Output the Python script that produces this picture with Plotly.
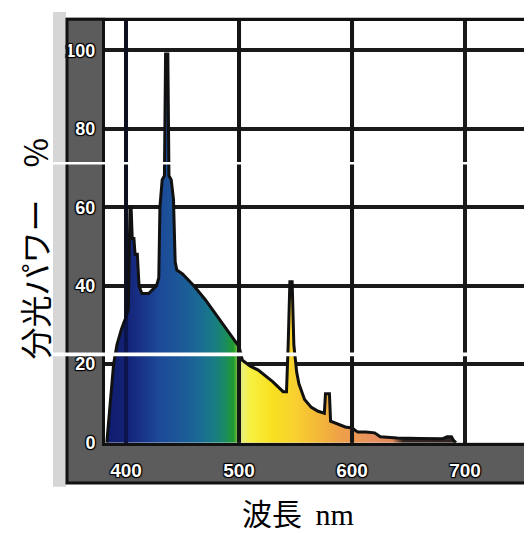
import plotly.graph_objects as go

# ---- data ----
wavelength_nm = [383, 386, 389, 392, 396, 400, 402, 403.5, 404.5, 405.5, 407, 408, 410, 411.5, 414,
                 420, 427, 429, 430, 432, 434, 435, 437, 438, 440, 442, 443.5, 445, 450, 460, 470,
                 480, 490, 500, 503, 510, 517, 530, 539, 542, 543.5, 545, 547, 548.5, 551, 553, 558,
                 564, 570, 575.5, 576.5, 580, 581, 585, 594, 600, 605, 612, 620, 625, 640, 660, 680,
                 684, 688, 690, 692]
spectral_power = [0, 10, 20, 25, 29, 32, 34, 60, 60, 52, 52, 48, 48, 40, 38,
                  38, 40, 42, 60, 67, 68, 99, 99, 68, 67, 62, 46, 44, 43, 40, 36.5,
                  32.5, 28.5, 24.5, 21, 19.5, 18.5, 15.5, 13, 13, 25, 41, 41, 25, 18, 15, 11,
                  9, 8, 7.5, 12.5, 12.5, 5.5, 5, 4, 3.75, 2.7, 2.7, 2.5, 1.5, 1.2, 1.1, 1.0,
                  1.5, 1.5, 0.5, 0]

x_ticks = [400, 500, 600, 700]
y_ticks = [0, 20, 40, 60, 80, 100]

# colour of the spectrum fill by wavelength
color_nm = [383, 400, 415, 430, 450, 465, 478, 488, 495, 499, 502, 510, 530, 550, 570, 590, 620, 636, 645, 692]
color_hex = ["#101c6e", "#132276", "#18348a", "#1c4a98", "#1c5a98", "#1a6a94", "#187c84", "#1a8c60",
             "#1e9a30", "#80c040", "#e8f080", "#f8f040", "#f8e020", "#f8d030", "#f4b838", "#eea048",
             "#e89060", "#e08858", "#302420", "#302420"]

W, H = 532, 533


def px(x):
    return x / W


def py(y):
    return 1 - y / H


lo, hi = color_nm[0], color_nm[-1]
colorscale = [[(n - lo) / (hi - lo), c] for n, c in zip(color_nm, color_hex)]

fig = go.Figure()
fig.add_trace(go.Scatter(
    x=wavelength_nm, y=spectral_power, mode="lines",
    line=dict(color="#111111", width=3),
    fill="tozeroy",
    fillgradient=dict(type="horizontal", colorscale=colorscale, start=lo, stop=hi),
    hoverinfo="skip", showlegend=False,
))

shadow = "1px 1px 1px #000, -1px -1px 1px #000, 1px -1px 1px #000, -1px 1px 1px #000"

shapes = [
    # light textured strip at the far left
    dict(type="rect", xref="paper", yref="paper", x0=px(45), x1=px(58), y0=py(488), y1=py(4),
         fillcolor="#d6d6d6", line=dict(width=0), layer="below"),
    # dark grey axis bands
    dict(type="rect", xref="paper", yref="paper", x0=px(58), x1=px(97), y0=py(485), y1=py(10),
         fillcolor="#5c5c5c", line=dict(width=0), layer="below"),
    dict(type="rect", xref="paper", yref="paper", x0=px(58), x1=px(529), y0=py(485), y1=py(443),
         fillcolor="#5c5c5c", line=dict(width=0), layer="below"),
    # outer black frame
    dict(type="rect", xref="paper", yref="paper", x0=px(59), x1=px(528), y0=py(484), y1=py(11.5),
         fillcolor="rgba(0,0,0,0)", line=dict(color="#111111", width=3), layer="above"),
]
# vertical grid lines drawn over the spectrum
for xv, col in [(400, "rgba(5,10,40,0.55)"), (500, "#151515"), (600, "#151515")]:
    shapes.append(dict(type="line", xref="x", yref="paper", x0=xv, x1=xv, y0=py(443), y1=py(13),
                       line=dict(color=col, width=4), layer="above"))
# white scan-line artefacts of the original picture
for y0, y1 in [(157, 159.5), (351, 355)]:
    shapes.append(dict(type="rect", xref="paper", yref="paper", x0=0, x1=1, y0=py(y1), y1=py(y0),
                       fillcolor="white", line=dict(width=0), layer="above"))

fig.update_layout(
    width=W, height=H,
    margin=dict(l=0, r=0, t=0, b=0),
    paper_bgcolor="white", plot_bgcolor="white",
    shapes=shapes,
    xaxis=dict(domain=[px(97), px(527)], range=[381.4, 761.9],
               tickvals=x_ticks, ticktext=[str(v) for v in x_ticks],
               showgrid=True, gridcolor="#1a1a1a", gridwidth=4,
               showline=True, linecolor="#111111", linewidth=3, mirror=True,
               zeroline=False, ticks="", ticklabelstandoff=9,
               tickfont=dict(family="Liberation Sans", size=19, color="white", weight="bold",
                             shadow=shadow)),
    yaxis=dict(domain=[py(443), py(13)], range=[0, 107.5],
               tickvals=y_ticks, ticktext=[str(v) for v in y_ticks],
               showgrid=True, gridcolor="#1a1a1a", gridwidth=4,
               showline=True, linecolor="#111111", linewidth=3, mirror=True,
               zeroline=False, ticks="", ticklabelstandoff=3,
               tickfont=dict(family="Liberation Sans", size=18, color="white", weight="bold",
                             shadow=shadow)),
    annotations=[
        dict(text="分光パワー　%", xref="paper", yref="paper", x=px(26), y=py(246),
             textangle=-90, showarrow=False, xanchor="center", yanchor="middle",
             font=dict(family="Noto Sans CJK JP", size=32, color="black")),
        dict(text='波長  <span style="font-family:Liberation Serif">nm</span>',
             xref="paper", yref="paper", x=px(290), y=py(514), showarrow=False,
             xanchor="center", yanchor="middle",
             font=dict(family="Noto Sans CJK JP", size=30, color="black")),
    ],
)

fig.write_html("out.html")
